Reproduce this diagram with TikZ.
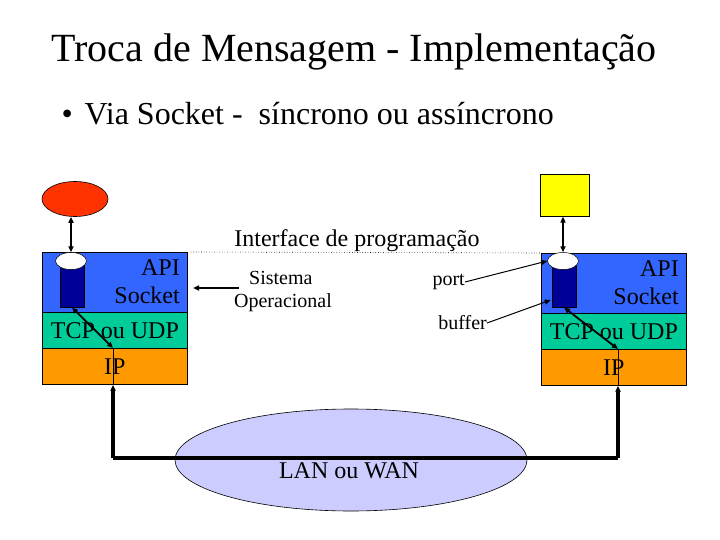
\documentclass[tikz,border=0pt]{standalone}
\usepackage{fontspec}
\setmainfont{Liberation Serif}
\usepackage{xcolor}
\definecolor{sapi}{HTML}{3366FF}
\definecolor{stcp}{HTML}{00CC99}
\definecolor{sip}{HTML}{FF9900}
\definecolor{snavy}{HTML}{000099}
\definecolor{sred}{HTML}{FF3300}
\definecolor{slan}{HTML}{CCCCFF}
\definecolor{syel}{HTML}{FFFF00}
\usepackage{tikz}
\usetikzlibrary{arrows.meta,positioning,calc,shapes.geometric}

\begin{document}
\begin{tikzpicture}[x=1pt,y=-1pt,
  layer/.style={rectangle,draw=black,line width=0.8pt,minimum width=145pt,anchor=north west,inner sep=0pt},
  body/.style={rectangle,fill=snavy,draw=black,line width=0.5pt,minimum width=24pt,minimum height=46pt,anchor=north,inner sep=0pt},
  top/.style={ellipse,fill=white,draw=black,line width=0.5pt,minimum width=31pt,minimum height=17pt,inner sep=0pt},
  tip/.style={-{Triangle[length=6pt,width=5pt]}},
  dtip/.style={{Triangle[length=6pt,width=5pt]}-{Triangle[length=6pt,width=5pt]}},
  big/.style={font=\fontsize{24}{28}\selectfont},
  small/.style={font=\fontsize{20}{23}\selectfont}]
\useasboundingbox (0,0) rectangle (720,540);

% titulo
\node[anchor=base,font=\fontsize{40}{46}\selectfont] (title) at (354,62)
  {Troca de Mensagem - Implementação};
\node[anchor=base west,font=\fontsize{32}{38}\selectfont] (bul) at (58,125)
  {\textbullet\hspace{12pt}Via Socket -\ \ síncrono ou assíncrono};

% lado esquerdo
\node[ellipse,fill=sred,draw=black,line width=0.6pt,minimum width=66pt,minimum height=35pt] (appL) at (75,199) {};
\node[layer,fill=sapi,minimum height=60pt] (apiL) at (42,252) {};
\node[layer,fill=stcp,minimum height=36pt] (tcpL) at (42,312) {};
\node[layer,fill=sip,minimum height=36pt] (ipL) at (42,348) {};
\node[big,align=right,anchor=east,inner sep=0pt] (apiLt) at (180,282) {API\\Socket};
\node[big,inner sep=0pt] (tcpLt) at (tcpL.center) {TCP ou UDP};
\node[big,inner sep=0pt] (ipLt) at (ipL.center) {IP};
\node[body] (cylL) at (72,261) {};
\node[top] (topL) at (71,261) {};

% lado direito
\node[rectangle,fill=syel,draw=black,line width=0.6pt,minimum width=49pt,minimum height=42pt,anchor=north west] (appR) at (540,174) {};
\node[layer,fill=sapi,minimum height=60pt] (apiR) at (541,253) {};
\node[layer,fill=stcp,minimum height=36pt] (tcpR) at (541,313) {};
\node[layer,fill=sip,minimum height=36pt] (ipR) at (541,349) {};
\node[big,align=right,anchor=east,inner sep=0pt] (apiRt) at (679,283) {API\\Socket};
\node[big,inner sep=0pt] (tcpRt) at (tcpR.center) {TCP ou UDP};
\node[big,inner sep=0pt] (ipRt) at (ipR.center) {IP};
\node[body] (cylR) at (564,261) {};
\node[top] (topR) at (563,261) {};

% meio
\node[big,anchor=base,inner sep=0pt] (api) at (357,247) {Interface de programação};
\draw[dotted,line width=0.6pt] (apiL.north east) ++(3,0) -- (apiR.north west);
\node[small,align=left,inner sep=0pt] (so) at (283,292) {\hspace{15pt}Sistema\\Operacional};
\node[small,anchor=east,inner sep=0pt] (port) at (465,282) {port};
\node[small,anchor=east,inner sep=0pt] (buf) at (487,323) {buffer};
\coordinate (soend) at (193,288);
\draw[tip,line width=1.5pt] (so.west |- soend) ++(5,0) -- (soend);
\draw[tip,line width=1pt] (port.east) -- (topR.west);
\draw[tip,line width=1pt] (buf.east) -- ($(cylR.north west)+(-1,39)$);

% setas pilha
\draw[dtip,line width=2.2pt] (appL.south -| topL.north) -- (topL.north);
\draw[dtip,line width=2.2pt] (appR.south -| topR.north) -- (topR.north);
\coordinate (dL) at (113,348);
\coordinate (dR) at (618,349);
\draw[dtip,line width=1.8pt] (cylL.south) -- (dL);
\draw[dtip,line width=1.8pt] (cylR.south) -- (dR);
\draw[line width=0.8pt] (dL) -- (dL |- ipL.south);
\draw[line width=0.8pt] (dR) -- (dR |- ipR.south);

% rede
\node[ellipse,fill=slan,draw=black,line width=0.6pt,minimum width=352pt,minimum height=102pt] (lan) at (351,460) {};
\coordinate (lanL) at (113,458);
\coordinate (lanR) at (618,458);
\draw[line width=3.5pt] (lanL) -- (lanR);
\draw[tip,line width=3.5pt] (lanL) -- (lanL |- ipL.south);
\draw[tip,line width=3.5pt] (lanR) -- (lanR |- ipR.south);
\node[big,inner sep=0pt] (lant) at (349,471) {LAN ou WAN};
\end{tikzpicture}
\end{document}
